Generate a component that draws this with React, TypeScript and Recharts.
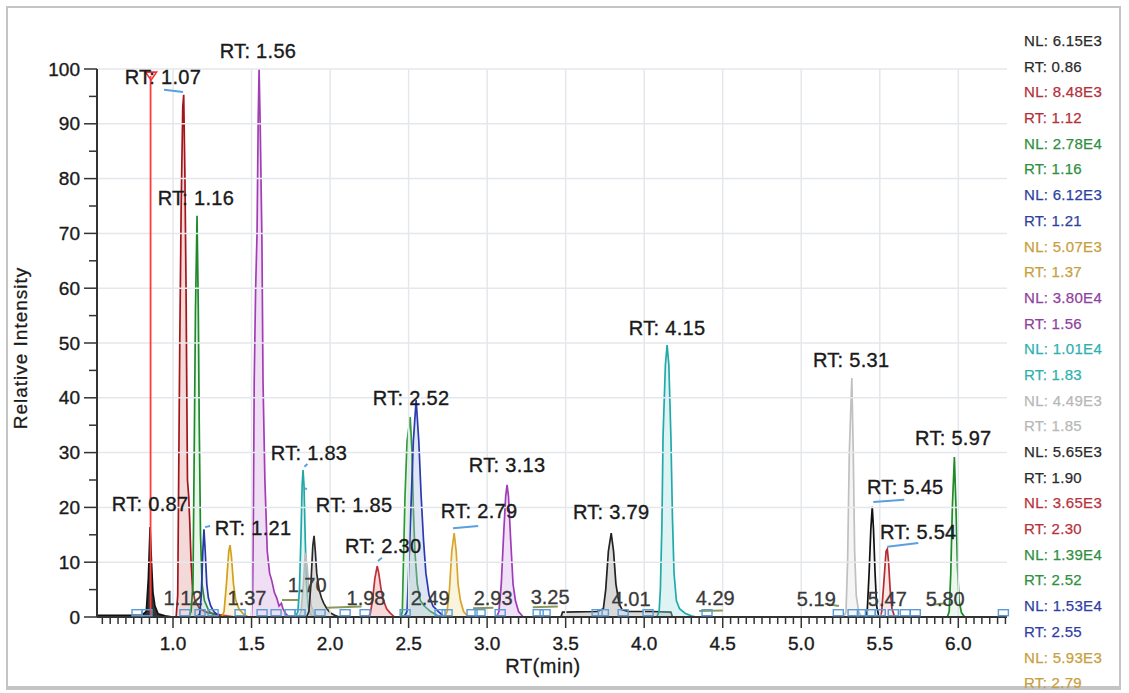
import React from 'react';
import { ComposedChart, Area, XAxis, YAxis, ReferenceLine, ReferenceDot, Scatter } from 'recharts';

type P = { x: number; y: number };

// ---- peak traces (RT min, relative intensity %) ----
const peakBlack086: P[] = [
  { x: 0.52, y: 0.3 }, { x: 0.8, y: 0.3 }, { x: 0.83, y: 1 }, { x: 0.843, y: 7 }, { x: 0.854, y: 16.4 },
  { x: 0.863, y: 10 }, { x: 0.872, y: 4.5 }, { x: 0.885, y: 2 }, { x: 0.905, y: 0.6 }, { x: 0.95, y: 0.2 }, { x: 1.0, y: 0 },
];
const peakDarkRed107: P[] = [
  { x: 1.02, y: 0 }, { x: 1.03, y: 4 }, { x: 1.036, y: 25 }, { x: 1.043, y: 50 }, { x: 1.052, y: 75 },
  { x: 1.062, y: 93 }, { x: 1.068, y: 95.3 }, { x: 1.076, y: 80 }, { x: 1.083, y: 60 }, { x: 1.088, y: 40 },
  { x: 1.092, y: 25 }, { x: 1.1, y: 22 }, { x: 1.107, y: 17 }, { x: 1.115, y: 10 }, { x: 1.125, y: 5 },
  { x: 1.14, y: 3 }, { x: 1.17, y: 1.5 }, { x: 1.22, y: 0.8 }, { x: 1.3, y: 0.4 }, { x: 1.4, y: 0 },
];
const peakGreen116: P[] = [
  { x: 1.1, y: 0 }, { x: 1.115, y: 1 }, { x: 1.127, y: 6 }, { x: 1.135, y: 30 }, { x: 1.143, y: 56 },
  { x: 1.153, y: 73.2 }, { x: 1.161, y: 56 }, { x: 1.167, y: 35 }, { x: 1.175, y: 15 }, { x: 1.185, y: 6 },
  { x: 1.2, y: 3 }, { x: 1.23, y: 1 }, { x: 1.28, y: 0 },
];
const peakBlue121: P[] = [
  { x: 1.15, y: 0 }, { x: 1.17, y: 0.5 }, { x: 1.18, y: 4 }, { x: 1.19, y: 12 }, { x: 1.197, y: 16 },
  { x: 1.205, y: 12 }, { x: 1.215, y: 6 }, { x: 1.225, y: 3.5 }, { x: 1.24, y: 2 }, { x: 1.26, y: 1 }, { x: 1.3, y: 0 },
];
const peakGold137: P[] = [
  { x: 1.31, y: 0 }, { x: 1.325, y: 1 }, { x: 1.34, y: 6 }, { x: 1.355, y: 12 }, { x: 1.363, y: 13.1 },
  { x: 1.372, y: 11 }, { x: 1.385, y: 6 }, { x: 1.4, y: 3 }, { x: 1.42, y: 1.5 }, { x: 1.45, y: 0.5 }, { x: 1.48, y: 0 },
];
const peakPurple156: P[] = [
  { x: 1.5, y: 0 }, { x: 1.507, y: 5 }, { x: 1.512, y: 20 }, { x: 1.517, y: 43 }, { x: 1.526, y: 60 },
  { x: 1.535, y: 70 }, { x: 1.542, y: 90 }, { x: 1.548, y: 100 }, { x: 1.555, y: 90 }, { x: 1.566, y: 69 },
  { x: 1.573, y: 43 }, { x: 1.585, y: 25 }, { x: 1.6, y: 12 }, { x: 1.615, y: 8 }, { x: 1.63, y: 6.5 },
  { x: 1.645, y: 4.5 }, { x: 1.66, y: 3.5 }, { x: 1.675, y: 2 }, { x: 1.69, y: 2.5 }, { x: 1.7, y: 1.5 },
  { x: 1.72, y: 0.5 }, { x: 1.74, y: 0 },
];
const peakTeal183: P[] = [
  { x: 1.78, y: 0 }, { x: 1.795, y: 1 }, { x: 1.805, y: 5 }, { x: 1.815, y: 15 }, { x: 1.822, y: 24 },
  { x: 1.828, y: 26.8 }, { x: 1.834, y: 24 }, { x: 1.842, y: 14 }, { x: 1.85, y: 6 }, { x: 1.86, y: 2 },
  { x: 1.875, y: 0.5 }, { x: 1.9, y: 0 },
];
const peakGrey185: P[] = [
  { x: 1.8, y: 0 }, { x: 1.815, y: 1 }, { x: 1.83, y: 6 }, { x: 1.842, y: 11.7 }, { x: 1.855, y: 9 },
  { x: 1.865, y: 5 }, { x: 1.88, y: 2 }, { x: 1.9, y: 0.5 }, { x: 1.93, y: 0 },
];
const peakBlack190: P[] = [
  { x: 1.85, y: 0 }, { x: 1.865, y: 1 }, { x: 1.878, y: 6 }, { x: 1.89, y: 13 }, { x: 1.898, y: 14.8 },
  { x: 1.906, y: 12 }, { x: 1.915, y: 8 }, { x: 1.93, y: 5 }, { x: 1.945, y: 3.5 }, { x: 1.96, y: 2.5 },
  { x: 1.98, y: 1.5 }, { x: 2.0, y: 0.8 }, { x: 2.03, y: 0.3 }, { x: 2.06, y: 0 },
];
const peakRed230: P[] = [
  { x: 2.24, y: 0 }, { x: 2.255, y: 0.5 }, { x: 2.27, y: 3 }, { x: 2.285, y: 7 }, { x: 2.3, y: 9.3 },
  { x: 2.31, y: 8 }, { x: 2.325, y: 5 }, { x: 2.34, y: 3 }, { x: 2.36, y: 1.5 }, { x: 2.38, y: 0.8 }, { x: 2.41, y: 0 },
];
const peakGreen252: P[] = [
  { x: 2.45, y: 0 }, { x: 2.46, y: 1 }, { x: 2.467, y: 10 }, { x: 2.477, y: 22 }, { x: 2.49, y: 32 },
  { x: 2.51, y: 36.5 }, { x: 2.522, y: 30 }, { x: 2.53, y: 20 }, { x: 2.54, y: 12 }, { x: 2.555, y: 6 },
  { x: 2.575, y: 3 }, { x: 2.6, y: 2 }, { x: 2.64, y: 1 }, { x: 2.7, y: 0 },
];
const peakBlue255: P[] = [
  { x: 2.47, y: 0 }, { x: 2.49, y: 1 }, { x: 2.5, y: 8 }, { x: 2.515, y: 20 }, { x: 2.53, y: 32 },
  { x: 2.548, y: 39.6 }, { x: 2.565, y: 32 }, { x: 2.58, y: 22 }, { x: 2.595, y: 14 }, { x: 2.61, y: 8 },
  { x: 2.63, y: 4 }, { x: 2.655, y: 2 }, { x: 2.69, y: 1 }, { x: 2.73, y: 0 },
];
const peakGold279: P[] = [
  { x: 2.73, y: 0 }, { x: 2.745, y: 1 }, { x: 2.76, y: 5 }, { x: 2.775, y: 12 }, { x: 2.79, y: 15.3 },
  { x: 2.803, y: 12 }, { x: 2.815, y: 6 }, { x: 2.83, y: 3 }, { x: 2.85, y: 1 }, { x: 2.88, y: 0 },
];
const peakPurple313: P[] = [
  { x: 3.06, y: 0 }, { x: 3.075, y: 1 }, { x: 3.09, y: 6 }, { x: 3.105, y: 15 }, { x: 3.118, y: 22 },
  { x: 3.127, y: 24.1 }, { x: 3.136, y: 22 }, { x: 3.15, y: 14 }, { x: 3.165, y: 6 }, { x: 3.18, y: 3 },
  { x: 3.2, y: 1 }, { x: 3.23, y: 0 },
];
const peakBlack379: P[] = [
  { x: 3.47, y: 0 }, { x: 3.48, y: 0.9 }, { x: 3.7, y: 1 }, { x: 3.74, y: 1.5 }, { x: 3.755, y: 5 },
  { x: 3.772, y: 12 }, { x: 3.79, y: 15.3 }, { x: 3.805, y: 12 }, { x: 3.82, y: 6 }, { x: 3.84, y: 2.5 },
  { x: 3.86, y: 1.3 }, { x: 3.9, y: 1 }, { x: 4.05, y: 1 }, { x: 4.17, y: 0.9 }, { x: 4.18, y: 0 },
];
const peakTeal415: P[] = [
  { x: 4.08, y: 0 }, { x: 4.095, y: 1 }, { x: 4.103, y: 5 }, { x: 4.113, y: 17 }, { x: 4.12, y: 33 },
  { x: 4.135, y: 46 }, { x: 4.146, y: 49.6 }, { x: 4.157, y: 46 }, { x: 4.17, y: 33 }, { x: 4.18, y: 18 },
  { x: 4.19, y: 8 }, { x: 4.205, y: 3 }, { x: 4.225, y: 1.5 }, { x: 4.26, y: 0.7 }, { x: 4.3, y: 0.2 }, { x: 4.33, y: 0 },
];
const peakGrey531: P[] = [
  { x: 5.27, y: 0 }, { x: 5.285, y: 1 }, { x: 5.295, y: 10 }, { x: 5.306, y: 30 }, { x: 5.322, y: 43.6 },
  { x: 5.331, y: 30 }, { x: 5.34, y: 12 }, { x: 5.35, y: 4 }, { x: 5.365, y: 1 }, { x: 5.385, y: 0 },
];
const peakBlack545: P[] = [
  { x: 5.41, y: 0 }, { x: 5.42, y: 1 }, { x: 5.432, y: 8 }, { x: 5.443, y: 16 }, { x: 5.452, y: 20.1 },
  { x: 5.46, y: 16 }, { x: 5.47, y: 8 }, { x: 5.48, y: 2 }, { x: 5.495, y: 0 },
];
const peakRed554: P[] = [
  { x: 5.5, y: 0 }, { x: 5.512, y: 1 }, { x: 5.525, y: 6 }, { x: 5.54, y: 12 }, { x: 5.548, y: 12.4 },
  { x: 5.556, y: 10 }, { x: 5.566, y: 5 }, { x: 5.578, y: 1.5 }, { x: 5.595, y: 0 },
];
const peakGreen597: P[] = [
  { x: 5.93, y: 0 }, { x: 5.942, y: 1 }, { x: 5.952, y: 8 }, { x: 5.962, y: 20 }, { x: 5.975, y: 29.2 },
  { x: 5.985, y: 20 }, { x: 5.995, y: 9 }, { x: 6.005, y: 3 }, { x: 6.02, y: 0.8 }, { x: 6.04, y: 0 },
];

// ---- annotations ----
const markerRT = { x: 0.857, y: 98.7 };

const rtLabels = [
  { text: 'RT: 1.56', x: 1.541, y: 103.2 },
  { text: 'RT: 1.07', x: 0.936, y: 98.5 },
  { text: 'RT: 1.16', x: 1.146, y: 76.5 },
  { text: 'RT: 0.87', x: 0.854, y: 20.6 },
  { text: 'RT: 1.21', x: 1.51, y: 16.2 },
  { text: 'RT: 1.83', x: 1.866, y: 29.9 },
  { text: 'RT: 1.85', x: 2.153, y: 20.4 },
  { text: 'RT: 2.30', x: 2.338, y: 13.0 },
  { text: 'RT: 2.52', x: 2.516, y: 40.0 },
  { text: 'RT: 2.79', x: 2.949, y: 19.3 },
  { text: 'RT: 3.13', x: 3.127, y: 27.7 },
  { text: 'RT: 3.79', x: 3.79, y: 19.2 },
  { text: 'RT: 4.15', x: 4.146, y: 52.7 },
  { text: 'RT: 5.31', x: 5.318, y: 46.9 },
  { text: 'RT: 5.97', x: 5.968, y: 32.7 },
  { text: 'RT: 5.45', x: 5.662, y: 23.7 },
  { text: 'RT: 5.54', x: 5.745, y: 15.5 },
];

const minorLabels = [
  { text: '1.12', x: 1.064, y: 3.5 },
  { text: '1.37', x: 1.471, y: 3.5 },
  { text: '1.70', x: 1.854, y: 5.8 },
  { text: '1.98', x: 2.229, y: 3.5 },
  { text: '2.49', x: 2.637, y: 3.5 },
  { text: '2.93', x: 3.038, y: 3.5 },
  { text: '3.25', x: 3.401, y: 3.6 },
  { text: '4.01', x: 3.917, y: 3.3 },
  { text: '4.29', x: 4.452, y: 3.5 },
  { text: '5.19', x: 5.096, y: 3.3 },
  { text: '5.47', x: 5.548, y: 3.3 },
  { text: '5.80', x: 5.917, y: 3.3 },
];

const blueLeaders: [P, P][] = [
  [{ x: 0.943, y: 96.2 }, { x: 1.064, y: 95.8 }],
  [{ x: 2.783, y: 16.2 }, { x: 2.943, y: 16.6 }],
  [{ x: 5.459, y: 21.0 }, { x: 5.656, y: 21.4 }],
  [{ x: 5.548, y: 12.8 }, { x: 5.745, y: 13.5 }],
  [{ x: 1.204, y: 16.4 }, { x: 1.236, y: 16.6 }],
  [{ x: 1.836, y: 27.4 }, { x: 1.856, y: 27.9 }],
  [{ x: 1.84, y: 23.5 }, { x: 1.852, y: 23.3 }],
  [{ x: 2.305, y: 10.2 }, { x: 2.33, y: 10.8 }],
];

const oliveLeaders: [P, P][] = [
  [{ x: 1.694, y: 3.1 }, { x: 1.796, y: 3.1 }],
  [{ x: 1.98, y: 1.7 }, { x: 2.2, y: 1.9 }],
  [{ x: 2.91, y: 1.6 }, { x: 3.04, y: 1.7 }],
  [{ x: 3.29, y: 1.8 }, { x: 3.45, y: 1.9 }],
  [{ x: 4.35, y: 1.1 }, { x: 4.5, y: 1.2 }],
  [{ x: 5.15, y: 2.4 }, { x: 5.24, y: 2.0 }],
  [{ x: 5.82, y: 2.2 }, { x: 5.92, y: 2.5 }],
];

const baselineMarkX = [
  0.771, 0.834, 1.076, 1.172, 1.255, 1.427, 1.567, 1.656, 1.745, 1.809, 1.936, 2.096, 2.223,
  2.478, 2.7, 2.745, 2.904, 2.955, 3.083, 3.325, 3.369, 3.7, 3.74, 3.866, 4.025, 4.4, 5.236,
  5.33, 5.389, 5.44, 5.503, 5.586, 5.662, 5.726, 6.287,
];
const baselineMarks: P[] = baselineMarkX.map((x) => ({ x, y: 0.6 }));

const legendLines = [
  'NL: 6.15E3', 'RT: 0.86', 'NL: 8.48E3', 'RT: 1.12', 'NL: 2.78E4', 'RT: 1.16', 'NL: 6.12E3', 'RT: 1.21',
  'NL: 5.07E3', 'RT: 1.37', 'NL: 3.80E4', 'RT: 1.56', 'NL: 1.01E4', 'RT: 1.83', 'NL: 4.49E3', 'RT: 1.85',
  'NL: 5.65E3', 'RT: 1.90', 'NL: 3.65E3', 'RT: 2.30', 'NL: 1.39E4', 'RT: 2.52', 'NL: 1.53E4', 'RT: 2.55',
  'NL: 5.93E3', 'RT: 2.79',
];
const legendColors = [
  '#2b2b2b', '#b3303b', '#2f8f3f', '#2f3f9f', '#c8a040', '#8f3fa0', '#2fb0b0',
  '#b8b8b8', '#2b2b2b', '#b8323c', '#2f8f3f', '#2f3fa5', '#c8a040',
];

const xTicks: number[] = Array.from({ length: 116 }, (_, i) => Math.round((0.55 + i * 0.05) * 100) / 100);
const yTicks = [0, 5, 10, 15, 20, 25, 30, 35, 40, 45, 50, 55, 60, 65, 70, 75, 80, 85, 90, 95, 100];
const xGrid = [1.0, 1.5, 2.0, 2.5, 3.0, 3.5, 4.0, 4.5, 5.0, 5.5, 6.0];
const yGrid = [10, 20, 30, 40, 50, 60, 70, 80, 90, 100];

const series = [
  { data: peakBlack086, stroke: '#111111', fill: '#111111', op: 0.85 },
  { data: peakDarkRed107, stroke: '#a3151c', fill: '#d98080', op: 0.3 },
  { data: peakGreen116, stroke: '#1f8a2a', fill: '#8fd09a', op: 0.2 },
  { data: peakBlue121, stroke: '#2638a8', fill: '#9aa8e0', op: 0.15 },
  { data: peakGold137, stroke: '#d4a017', fill: '#f0dc9a', op: 0.3 },
  { data: peakPurple156, stroke: '#a23db5', fill: '#d4a0e0', op: 0.35 },
  { data: peakTeal183, stroke: '#20a8a8', fill: '#a0dcdc', op: 0.3 },
  { data: peakGrey185, stroke: '#bdbdbd', fill: '#cccccc', op: 0.6 },
  { data: peakBlack190, stroke: '#2a2a2a', fill: '#bbbbbb', op: 0.5 },
  { data: peakRed230, stroke: '#c0303a', fill: '#eaa0a0', op: 0.4 },
  { data: peakGreen252, stroke: '#2e9a3a', fill: '#a8dcb0', op: 0.3 },
  { data: peakBlue255, stroke: '#2a3ab0', fill: '#a8b8e0', op: 0.35 },
  { data: peakGold279, stroke: '#d9a52a', fill: '#f2e4a8', op: 0.4 },
  { data: peakPurple313, stroke: '#a03cb8', fill: '#d8a8e4', op: 0.35 },
  { data: peakBlack379, stroke: '#222222', fill: '#bbbbbb', op: 0.55 },
  { data: peakTeal415, stroke: '#22aaaa', fill: '#a0dcdc', op: 0.35 },
  { data: peakGrey531, stroke: '#c0c0c0', fill: '#dddddd', op: 0.3 },
  { data: peakBlack545, stroke: '#111111', fill: '#cccccc', op: 0.2 },
  { data: peakRed554, stroke: '#b82a33', fill: '#eaa0a0', op: 0.25 },
  { data: peakGreen597, stroke: '#1e8a28', fill: '#9fd8a8', op: 0.2 },
];

const FONT = '"Liberation Sans", Arial, Helvetica, sans-serif';

const XTick = (props: any) => {
  const { x, y, payload } = props;
  const v = payload.value as number;
  const major = Math.abs(v * 2 - Math.round(v * 2)) < 1e-6;
  return (
    <g>
      <line x1={x} y1={y} x2={x} y2={y + (major ? 11 : 7)} stroke="#333" strokeWidth={1.5} />
      {major && (
        <text x={x} y={y + 33} textAnchor="middle" fontSize={19} fill="#1a1a1a" stroke="#1a1a1a" strokeWidth={0.35} fontFamily={FONT}>
          {v.toFixed(1)}
        </text>
      )}
    </g>
  );
};

const YTick = (props: any) => {
  const { x, y, payload } = props;
  const v = payload.value as number;
  const major = v % 10 === 0;
  return (
    <g>
      <line x1={x - (major ? 13 : 8)} y1={y} x2={x} y2={y} stroke="#333" strokeWidth={1.5} />
      {major && (
        <text x={x - 17} y={y} textAnchor="end" dominantBaseline="central" fontSize={19} fill="#1a1a1a" stroke="#1a1a1a" strokeWidth={0.35} fontFamily={FONT}>
          {v}
        </text>
      )}
    </g>
  );
};

const BaselineBox = (props: any) => {
  const { cx, cy } = props;
  return <rect x={cx - 5} y={cy - 4} width={10} height={6} fill="none" stroke="#5b9bd5" strokeWidth={1.4} />;
};

export default function App() {
  return (
    <div style={{ position: 'absolute', left: 0, top: 0, width: 1129, height: 693, background: '#fff', fontFamily: FONT }}>
      <div style={{ position: 'absolute', left: 6, top: 6, width: 1111, height: 678, border: '2px solid #c4c4c4', borderBottomWidth: 4 }} />
      <ComposedChart
        width={1129}
        height={693}
        margin={{ top: 69, right: 122, bottom: 46, left: 37 }}
        style={{ position: 'absolute', left: 0, top: 0 }}
      >
        <XAxis
          type="number"
          dataKey="x"
          domain={[0.516, 6.31]}
          ticks={xTicks}
          interval={0}
          tickSize={0}
          tickMargin={0}
          tick={<XTick />}
          height={30}
          axisLine={{ stroke: '#333', strokeWidth: 2 }}
          tickLine={false}
        />
        <YAxis
          type="number"
          dataKey="y"
          domain={[0, 100]}
          ticks={yTicks}
          interval={0}
          tickSize={0}
          tickMargin={0}
          tick={<YTick />}
          width={60}
          axisLine={{ stroke: '#333', strokeWidth: 2 }}
          tickLine={false}
        />
        {xGrid.map((g) => (
          <ReferenceLine key={'gx' + g} x={g} stroke="#e4e7eb" strokeWidth={1.5} />
        ))}
        {yGrid.map((g) => (
          <ReferenceLine key={'gy' + g} y={g} stroke="#e4e7eb" strokeWidth={1.5} />
        ))}
        {minorLabels.map((l) => (
          <ReferenceDot
            key={'ml' + l.text}
            x={l.x}
            y={l.y}
            r={0}
            ifOverflow="visible"
            shape={(p: any) => (
              <text x={p.cx} y={p.cy} textAnchor="middle" dominantBaseline="central" fontSize={20} fill="#3a3a3a" stroke="#3a3a3a" strokeWidth={0.3} fontFamily={FONT}>
                {l.text}
              </text>
            )}
          />
        ))}
        {series.map((s, i) => (
          <Area
            key={'s' + i}
            data={s.data}
            dataKey="y"
            type="linear"
            stroke={s.stroke}
            strokeWidth={1.7}
            fill={s.fill}
            fillOpacity={s.op}
            dot={false}
            activeDot={false}
            isAnimationActive={false}
          />
        ))}
        <Scatter data={baselineMarks} shape={<BaselineBox />} isAnimationActive={false} />
        <ReferenceLine segment={[{ x: markerRT.x, y: 0 }, { x: markerRT.x, y: markerRT.y }]} stroke="#ff3b3b" strokeWidth={1.8} />
        <ReferenceDot
          x={markerRT.x}
          y={markerRT.y}
          r={0}
          ifOverflow="visible"
          shape={(p: any) => (
            <path d={`M${p.cx - 5},${p.cy - 4} L${p.cx + 6},${p.cy - 4} L${p.cx + 0.5},${p.cy + 4} Z`} fill="none" stroke="#ff3030" strokeWidth={1.6} />
          )}
        />
        {blueLeaders.map((seg, i) => (
          <ReferenceLine key={'bl' + i} segment={seg} stroke="#5aa0e0" strokeWidth={2} />
        ))}
        {oliveLeaders.map((seg, i) => (
          <ReferenceLine key={'ol' + i} segment={seg} stroke="#8a9a5b" strokeWidth={2} />
        ))}
        {rtLabels.map((l) => (
          <ReferenceDot
            key={'rt' + l.text}
            x={l.x}
            y={l.y}
            r={0}
            ifOverflow="visible"
            shape={(p: any) => (
              <text x={p.cx} y={p.cy} textAnchor="middle" dominantBaseline="central" fontSize={20} fill="#1a1a1a" stroke="#1a1a1a" strokeWidth={0.35} letterSpacing={0.3} fontFamily={FONT}>
                {l.text}
              </text>
            )}
          />
        ))}
      </ComposedChart>
      <div style={{ position: 'absolute', left: 8, top: 348, width: 26, height: 0 }}>
        <div
          style={{
            position: 'absolute',
            left: 13,
            top: 0,
            transform: 'translate(-50%, -50%) rotate(-90deg)',
            whiteSpace: 'nowrap',
            fontSize: 19,
            letterSpacing: 1,
            color: '#1a1a1a',
            WebkitTextStroke: '0.3px #1a1a1a',
          }}
        >
          Relative Intensity
        </div>
      </div>
      <div
        style={{
          position: 'absolute',
          left: 543,
          top: 666,
          transform: 'translate(-50%, -50%)',
          whiteSpace: 'nowrap',
          fontSize: 20,
          letterSpacing: 0.5,
          color: '#1a1a1a',
          WebkitTextStroke: '0.3px #1a1a1a',
        }}
      >
        RT(min)
      </div>
      <div style={{ position: 'absolute', left: 1024, top: 28 }}>
        {legendLines.map((t, i) => (
          <div
            key={'lg' + i}
            style={{
              height: 25.7,
              lineHeight: '25.7px',
              fontSize: 15,
              letterSpacing: 0.3,
              color: legendColors[Math.floor(i / 2)],
              WebkitTextStroke: '0.25px ' + legendColors[Math.floor(i / 2)],
              whiteSpace: 'nowrap',
            }}
          >
            {t}
          </div>
        ))}
      </div>
    </div>
  );
}
